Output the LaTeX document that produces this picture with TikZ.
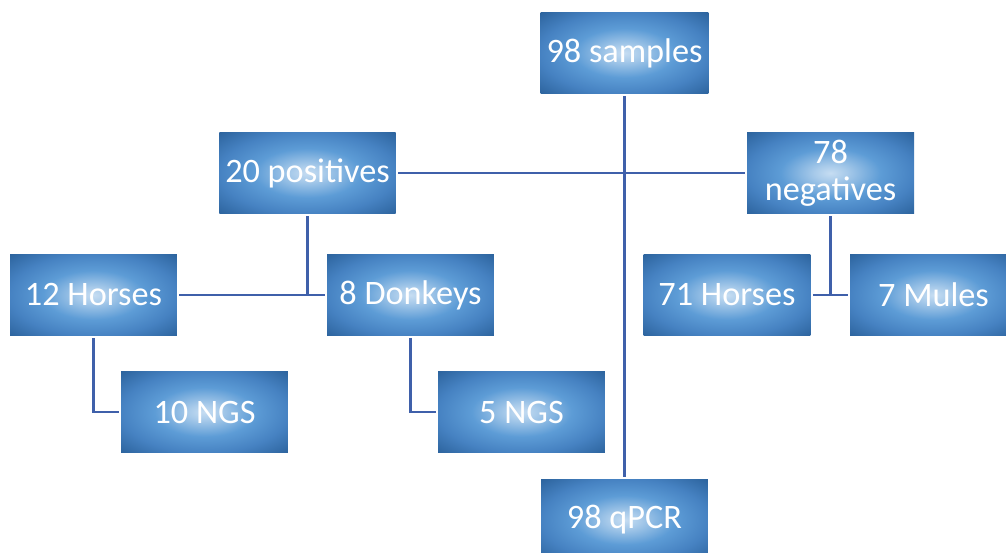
\documentclass[tikz,border=0pt]{standalone}
\usepackage{fontspec}
\setmainfont{Carlito}
\usepackage{tikz}
\definecolor{box_dark}{HTML}{2C639D}
\definecolor{box_edge}{HTML}{4682C2}
\definecolor{box_mid}{HTML}{5D9CD6}
\definecolor{box_light}{HTML}{C6DDF2}
\definecolor{line_blue}{HTML}{3F60AA}
\pgfdeclareradialshading{boxshade}{\pgfpoint{0bp}{0bp}}{color(0bp)=(box_light); color(5bp)=(box_light!70!box_mid);
    color(15bp)=(box_mid); color(25bp)=(box_edge); color(35.4bp)=(box_dark); color(50bp)=(box_dark)}

\begin{document}
\begin{tikzpicture}[x=0.02cm,y=-0.02cm,
    box/.style={shading=boxshade, minimum width=3.34cm, minimum height=1.64cm,
        text=white, font=\fontsize{19.5}{21}\selectfont, align=center, outer sep=0.05cm},
    link/.style={line_blue, line width=1.4pt}]
        \useasboundingbox (0,0) rectangle (1006,553);
        % Boites
        \node[box] (samples) at (624.5,53) {98 samples};
        \node[box] (positives) at (307.5,173) {20 positives};
        \node[box] (negatives) at (830.5,173) {78\\negatives};
        \node[box] (horses12) at (93.5,295) {12 Horses};
        \node[box] (donkeys) at (410.5,295) {8 Donkeys};
        \node[box] (horses71) at (727,295) {71 Horses};
        \node[box] (mules) at (933.5,295) {7 Mules};
        \node[box] (ngs10) at (204.5,412) {10 NGS};
        \node[box] (ngs5) at (521.5,412) {5 NGS};
        \node[box] (qpcr) at (624.5,520) {98 qPCR};
        % Liens
        \draw[link] (samples.south) -- (qpcr.north);
        \draw[link] (positives.east) -- (negatives.west);
        \draw[link] (positives.south) -- (positives.south |- donkeys.west);
        \draw[link] (horses12.east) -- (donkeys.west);
        \draw[link] (negatives.south) -- (negatives.south |- mules.west);
        \draw[link] (horses71.east) -- (mules.west);
        \draw[link] (horses12.south) |- (ngs10.west);
        \draw[link] (donkeys.south) |- (ngs5.west);
    \end{tikzpicture}
\end{document}
